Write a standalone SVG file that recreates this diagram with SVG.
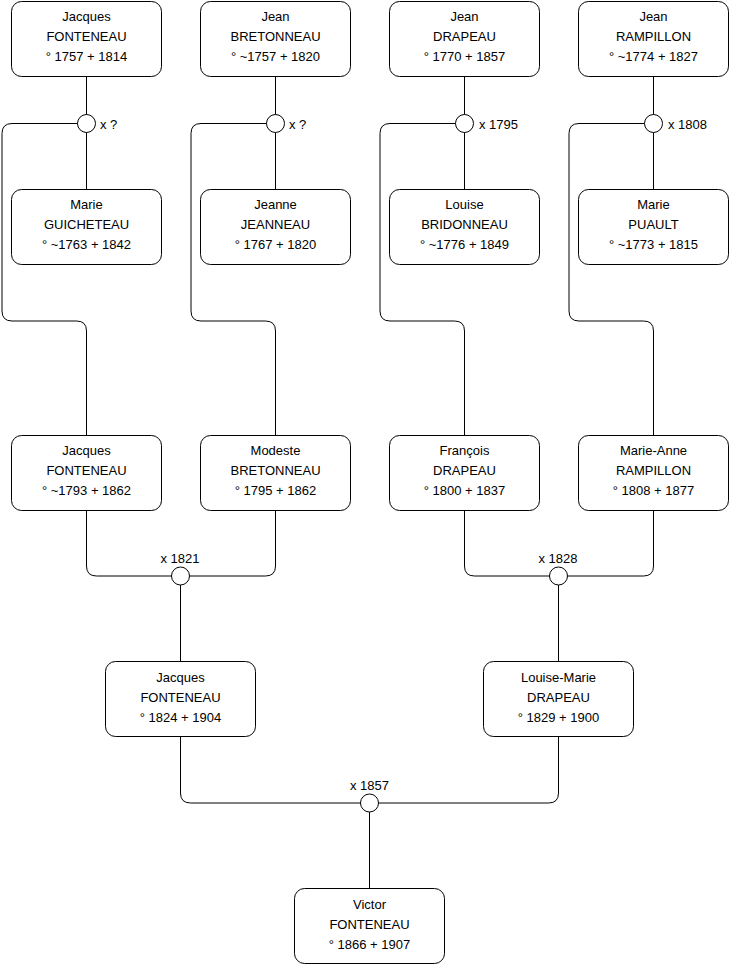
<svg xmlns="http://www.w3.org/2000/svg" width="740" height="975" viewBox="0 0 740 975">
<style>
.box{fill:#fff;stroke:#000;stroke-width:1}
.t{font-family:"Liberation Sans",Arial,sans-serif;font-size:13px;fill:#000;text-anchor:middle}
.l{font-family:"Liberation Sans",Arial,sans-serif;font-size:13px;fill:#000}
.c{fill:none;stroke:#000;stroke-width:1}
.m{fill:#fff;stroke:#000;stroke-width:1}
</style>
<rect width="740" height="975" fill="#fff"/>
<g id="connectors">
<path class="c" d="M86.5,76.5V123.5M86.5,123.5V189.5"/>
<path class="c" d="M275.5,76.5V189.5"/>
<path class="c" d="M464.5,76.5V189.5"/>
<path class="c" d="M653.5,76.5V189.5"/>
<path class="c" d="M86.5,123.5H12Q2,123.5 2,133.5V311Q2,321 12,321H76.5Q86.5,321 86.5,331V435.5"/>
<path class="c" d="M275.5,123.5H201Q191,123.5 191,133.5V311Q191,321 201,321H265.5Q275.5,321 275.5,331V435.5"/>
<path class="c" d="M464.5,123.5H390Q380,123.5 380,133.5V311Q380,321 390,321H454.5Q464.5,321 464.5,331V435.5"/>
<path class="c" d="M653.5,123.5H579Q569,123.5 569,133.5V311Q569,321 579,321H643.5Q653.5,321 653.5,331V435.5"/>
<path class="c" d="M86.5,510.5V566Q86.5,576 96.5,576H265.5Q275.5,576 275.5,566V510.5M180.5,576V661.5"/>
<path class="c" d="M464.5,510.5V566Q464.5,576 474.5,576H643.5Q653.5,576 653.5,566V510.5M558.5,576V661.5"/>
<path class="c" d="M180.5,736.5V793Q180.5,803 190.5,803H548.5Q558.5,803 558.5,793V736.5M369.5,803V888.5"/>
<circle class="m" cx="86.5" cy="123.5" r="9"/>
<circle class="m" cx="275.5" cy="123.5" r="9"/>
<circle class="m" cx="464.5" cy="123.5" r="9"/>
<circle class="m" cx="653.5" cy="123.5" r="9"/>
<circle class="m" cx="180.5" cy="576" r="9"/>
<circle class="m" cx="558.5" cy="576" r="9"/>
<circle class="m" cx="369.5" cy="803" r="9"/>
<text class="l" x="100" y="128.5">x ?</text>
<text class="l" x="289" y="128.5">x ?</text>
<text class="l" x="479" y="128.5">x 1795</text>
<text class="l" x="668" y="128.5">x 1808</text>
<text class="t" x="180" y="563">x 1821</text>
<text class="t" x="558" y="563">x 1828</text>
<text class="t" x="369.5" y="790">x 1857</text>
</g>
<g id="n1"><rect class="box" x="11.5" y="1.5" width="150" height="75" rx="10"/><text class="t" x="86.5" y="20.5">Jacques</text><text class="t" x="86.5" y="40.5">FONTENEAU</text><text class="t" x="86.5" y="60.5">° 1757 + 1814</text></g>
<g id="n2"><rect class="box" x="200.5" y="1.5" width="150" height="75" rx="10"/><text class="t" x="275.5" y="20.5">Jean</text><text class="t" x="275.5" y="40.5">BRETONNEAU</text><text class="t" x="275.5" y="60.5">° ~1757 + 1820</text></g>
<g id="n3"><rect class="box" x="389.5" y="1.5" width="150" height="75" rx="10"/><text class="t" x="464.5" y="20.5">Jean</text><text class="t" x="464.5" y="40.5">DRAPEAU</text><text class="t" x="464.5" y="60.5">° 1770 + 1857</text></g>
<g id="n4"><rect class="box" x="578.5" y="1.5" width="150" height="75" rx="10"/><text class="t" x="653.5" y="20.5">Jean</text><text class="t" x="653.5" y="40.5">RAMPILLON</text><text class="t" x="653.5" y="60.5">° ~1774 + 1827</text></g>
<g id="n5"><rect class="box" x="11.5" y="189.5" width="150" height="75" rx="10"/><text class="t" x="86.5" y="209">Marie</text><text class="t" x="86.5" y="229">GUICHETEAU</text><text class="t" x="86.5" y="249">° ~1763 + 1842</text></g>
<g id="n6"><rect class="box" x="200.5" y="189.5" width="150" height="75" rx="10"/><text class="t" x="275.5" y="209">Jeanne</text><text class="t" x="275.5" y="229">JEANNEAU</text><text class="t" x="275.5" y="249">° 1767 + 1820</text></g>
<g id="n7"><rect class="box" x="389.5" y="189.5" width="150" height="75" rx="10"/><text class="t" x="464.5" y="209">Louise</text><text class="t" x="464.5" y="229">BRIDONNEAU</text><text class="t" x="464.5" y="249">° ~1776 + 1849</text></g>
<g id="n8"><rect class="box" x="578.5" y="189.5" width="150" height="75" rx="10"/><text class="t" x="653.5" y="209">Marie</text><text class="t" x="653.5" y="229">PUAULT</text><text class="t" x="653.5" y="249">° ~1773 + 1815</text></g>
<g id="n9"><rect class="box" x="11.5" y="435.5" width="150" height="75" rx="10"/><text class="t" x="86.5" y="455">Jacques</text><text class="t" x="86.5" y="475">FONTENEAU</text><text class="t" x="86.5" y="495">° ~1793 + 1862</text></g>
<g id="n10"><rect class="box" x="200.5" y="435.5" width="150" height="75" rx="10"/><text class="t" x="275.5" y="455">Modeste</text><text class="t" x="275.5" y="475">BRETONNEAU</text><text class="t" x="275.5" y="495">° 1795 + 1862</text></g>
<g id="n11"><rect class="box" x="389.5" y="435.5" width="150" height="75" rx="10"/><text class="t" x="464.5" y="455">François</text><text class="t" x="464.5" y="475">DRAPEAU</text><text class="t" x="464.5" y="495">° 1800 + 1837</text></g>
<g id="n12"><rect class="box" x="578.5" y="435.5" width="150" height="75" rx="10"/><text class="t" x="653.5" y="455">Marie-Anne</text><text class="t" x="653.5" y="475">RAMPILLON</text><text class="t" x="653.5" y="495">° 1808 + 1877</text></g>
<g id="n13"><rect class="box" x="105.5" y="661.5" width="150" height="75" rx="10"/><text class="t" x="180.5" y="682">Jacques</text><text class="t" x="180.5" y="702">FONTENEAU</text><text class="t" x="180.5" y="722">° 1824 + 1904</text></g>
<g id="n14"><rect class="box" x="483.5" y="661.5" width="150" height="75" rx="10"/><text class="t" x="558.5" y="682">Louise-Marie</text><text class="t" x="558.5" y="702">DRAPEAU</text><text class="t" x="558.5" y="722">° 1829 + 1900</text></g>
<g id="n15"><rect class="box" x="294.5" y="888.5" width="150" height="75" rx="10"/><text class="t" x="369.5" y="909">Victor</text><text class="t" x="369.5" y="929">FONTENEAU</text><text class="t" x="369.5" y="949">° 1866 + 1907</text></g>
</svg>
